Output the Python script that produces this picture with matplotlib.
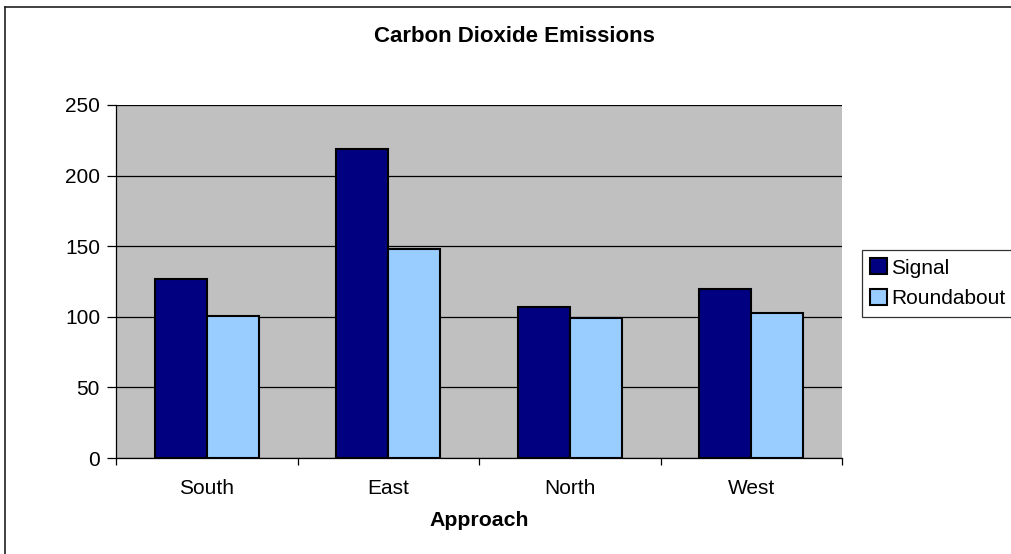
import numpy as np
import matplotlib.pyplot as plt
from matplotlib.lines import Line2D

plt.rcParams["font.family"] = ["Liberation Sans", "DejaVu Sans"]

categories = ["South", "East", "North", "West"]
signal = [127, 219, 107, 120]
roundabout = [100.5, 148, 99.5, 103]
y_ticks = [0, 50, 100, 150, 200, 250]

W, H = 1011, 554
fig = plt.figure(figsize=(W / 100, H / 100), dpi=100)
fig.patch.set_facecolor("white")

# plot area in pixels: x 116..842, y 105..458
ax = fig.add_axes([116 / W, 1 - 458 / H, (842 - 116) / W, (458 - 105) / H])
ax.set_facecolor("#C0C0C0")

x = np.arange(len(categories))
bw = 1 / 3.5
ax.bar(x - bw / 2, signal, bw, color="#000080", edgecolor="black",
       linewidth=1.5, label="Signal", zorder=3)
ax.bar(x + bw / 2, roundabout, bw, color="#99CCFF", edgecolor="black",
       linewidth=1.5, label="Roundabout", zorder=3)

ax.set_xlim(-0.5, len(categories) - 0.5)
ax.set_ylim(0, 250)
ax.set_yticks(y_ticks)
ax.yaxis.grid(True, color="black", linewidth=0.9, zorder=1)
ax.set_axisbelow(True)

# category boundary ticks, labels centred on the groups
ax.set_xticks(np.arange(-0.5, len(categories), 1.0))
ax.set_xticklabels([])
ax.set_xticks(x, minor=True)
ax.set_xticklabels(categories, minor=True)
ax.tick_params(axis="x", which="major", length=5, width=0.9, direction="out")
ax.tick_params(axis="x", which="minor", length=0, pad=15, labelsize=15)
ax.tick_params(axis="y", length=6.5, width=0.9, direction="out", pad=5,
               labelsize=15)

for s in ["top", "right"]:
    ax.spines[s].set_visible(False)
for s in ["left", "bottom"]:
    ax.spines[s].set_color("black")
    ax.spines[s].set_linewidth(0.9)

fig.text(514 / W, 1 - 37 / H, "Carbon Dioxide Emissions", ha="center",
         va="center", fontsize=16, fontweight="bold")
fig.text(479 / W, 1 - 521 / H, "Approach", ha="center", va="center",
         fontsize=15.3, fontweight="bold")

leg = fig.legend(loc="upper left", bbox_to_anchor=(862 / W, 1 - 250 / H),
                 fontsize=15, frameon=True, fancybox=False, shadow=False,
                 handlelength=0.8, handleheight=0.8, handletextpad=0.2,
                 borderpad=0.4, labelspacing=0.55, borderaxespad=0)
leg.get_frame().set_edgecolor("black")
leg.get_frame().set_linewidth(0.9)

# outer chart frame (left and top edges visible)
fig.add_artist(Line2D([5 / W, 5 / W], [0, 1 - 7 / H], color="#202020",
                      linewidth=1.2, transform=fig.transFigure))
fig.add_artist(Line2D([5 / W, 1], [1 - 7 / H, 1 - 7 / H], color="#202020",
                      linewidth=1.2, transform=fig.transFigure))

fig.savefig("out.png", dpi=100)
